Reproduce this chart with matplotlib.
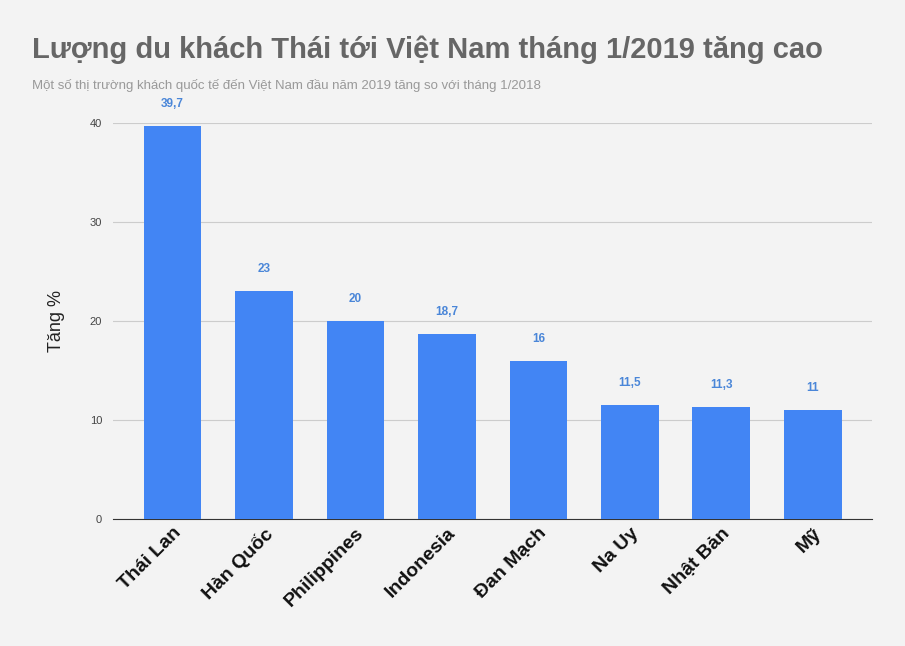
import matplotlib
matplotlib.use("Agg")
import matplotlib.pyplot as plt

countries = ["Thái Lan", "Hàn Quốc", "Philippines", "Indonesia", "Đan Mạch", "Na Uy", "Nhật Bản", "Mỹ"]
growth = [39.7, 23, 20, 18.7, 16, 11.5, 11.3, 11]
value_labels = ["39,7", "23", "20", "18,7", "16", "11,5", "11,3", "11"]

plt.rcParams['font.family'] = ['Liberation Sans', 'DejaVu Sans']

fig = plt.figure(figsize=(9.05, 6.46), dpi=100, facecolor='#f3f3f3')
ax = fig.add_axes([0.125, 0.1966, 0.8387, 0.613])
ax.set_facecolor('#f3f3f3')

x = range(len(countries))
ax.bar(x, growth, width=0.63, color='#4285f4', zorder=3)
for i, v in enumerate(growth):
    ax.text(i, v + 1.6, value_labels[i], ha='center', va='bottom',
            fontsize=8.5, fontweight='bold', color='#4a86d8')

ax.set_xlim(-0.65, len(countries) - 0.35)
ax.set_ylim(0, 40)
ax.set_yticks([0, 10, 20, 30, 40])
ax.grid(axis='y', color='#cccccc', linewidth=0.8, zorder=0)
ax.tick_params(axis='y', length=0, labelsize=8, labelcolor='#444444', pad=8)
ax.tick_params(axis='x', length=0, pad=4)
ax.set_xticks(list(x))
ax.set_xticklabels(countries, rotation=45, ha='right', rotation_mode='anchor',
                   fontsize=14, fontweight='bold', color='#111111')
for s in ['top', 'right', 'left']:
    ax.spines[s].set_visible(False)
ax.spines['bottom'].set_color('#333333')
ax.set_ylabel("Tăng %", fontsize=13, color='#222222', labelpad=18)
ax.set_clip_on(False)

fig.text(0.035, 0.945, "Lượng du khách Thái tới Việt Nam tháng 1/2019 tăng cao",
         fontsize=21, fontweight='bold', color='#666666', va='top')
fig.text(0.035, 0.877, "Một số thị trường khách quốc tế đến Việt Nam đầu năm 2019 tăng so với tháng 1/2018",
         fontsize=9.5, color='#999999', va='top')

fig.savefig("out.png", dpi=100, facecolor=fig.get_facecolor())
